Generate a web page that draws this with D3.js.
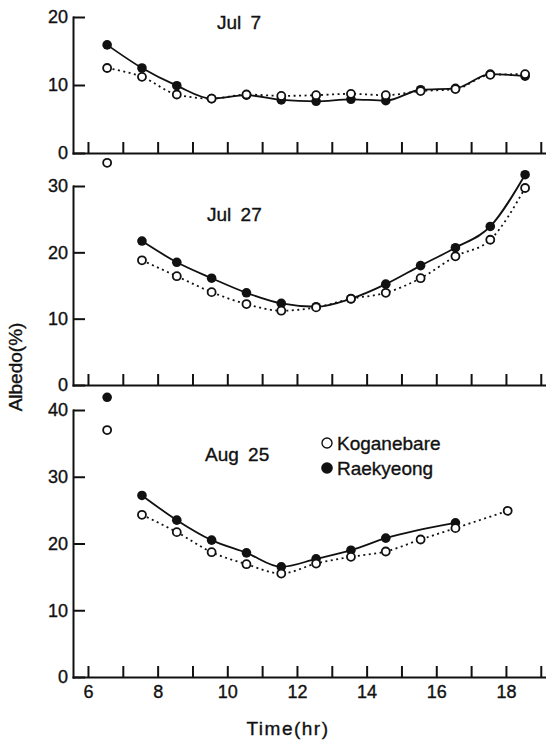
<!DOCTYPE html>
<html>
<head>
<meta charset="utf-8">
<script src="https://cdn.jsdelivr.net/npm/d3@7"></script>
<style>
body { margin: 0; background: #fff; }
text { font-family: "Liberation Sans", Arial, sans-serif; fill: #111; stroke: #111; stroke-width: 0.35px; }
.axis path, .axis line { stroke: #111; stroke-width: 2; }
</style>
</head>
<body>
<div class="d3-container"></div>
<script>
const w = 546
const h = 744

// data
const hours = [6.55, 7.55, 8.55, 9.55, 10.55, 11.55, 12.55, 13.55, 14.55, 15.55, 16.55, 17.55, 18.55]

const kJul7 = [12.5, 11.2, 8.6, 8.0, 8.6, 8.4, 8.5, 8.7, 8.5, 9.1, 9.4, 11.5, 11.6]
const rJul7 = [15.9, 12.5, 9.9, 8.0, 8.5, 7.8, 7.6, 7.9, 7.7, 9.3, 9.5, 11.6, 11.3]

const hJul27 = [7.55, 8.55, 9.55, 10.55, 11.55, 12.55, 13.55, 14.55, 15.55, 16.55, 17.55, 18.55]
const kJul27 = [18.8, 16.4, 14.0, 12.2, 11.2, 11.7, 13.0, 13.9, 16.1, 19.4, 21.9, 29.7]
const rJul27 = [21.7, 18.5, 16.1, 13.9, 12.3, 11.8, 13.0, 15.2, 18.0, 20.7, 23.9, 31.7]

const hkAug25 = [7.55, 8.55, 9.55, 10.55, 11.55, 12.55, 13.55, 14.55, 15.55, 16.55, 18.05]
const kAug25 = [24.3, 21.7, 18.7, 16.9, 15.5, 17.0, 18.0, 18.8, 20.6, 22.3, 24.9]
const hrAug25 = [7.55, 8.55, 9.55, 10.55, 11.55, 12.55, 13.55, 14.55, 16.55]
const rAug25 = [27.2, 23.5, 20.5, 18.6, 16.5, 17.7, 19.0, 20.8, 23.1]

// single readings outside the curves (6:30 values)
const kJul27Early = [{ t: 6.55, v: 33.5 }]
const kAug25Early = [{ t: 6.55, v: 37.0 }]
const rAug25Early = [{ t: 6.55, v: 41.9 }]

const panelNames = ['Jul 7', 'Jul 27', 'Aug 25']
const panelMax = [20, 30, 40]
const xTicks = [6, 7, 8, 9, 10, 11, 12, 13, 14, 15, 16, 17, 18, 19]
const xLabels = [6, 8, 10, 12, 14, 16, 18]
const legendNames = ['Koganebare', 'Raekyeong']

const zip = (ts, vs) => ts.map((t, i) => ({ t: t, v: vs[i] }))

const svg = d3.select('.d3-container')
    .append('svg')
    .attr('width', w)
    .attr('height', h)

const x = d3.scaleLinear()
    .domain([5.57, 19.15])
    .range([73, 546])

// pixel spans of each panel (bottom, top)
const spans = [[153, 17], [385, 186], [677, 410]]

const panels = [
    { k: zip(hours, kJul7), r: zip(hours, rJul7), kx: [], rx: [] },
    { k: zip(hJul27, kJul27), r: zip(hJul27, rJul27), kx: kJul27Early, rx: [] },
    { k: zip(hkAug25, kAug25), r: zip(hrAug25, rAug25), kx: kAug25Early, rx: rAug25Early }
]

const line = (y) => d3.line()
    .x(d => x(d.t))
    .y(d => y(d.v))
    .curve(d3.curveMonotoneX)

panels.forEach((p, i) => {
    const y = d3.scaleLinear()
        .domain([0, panelMax[i]])
        .range(spans[i])

    const g = svg.append('g')

    const yTicks = d3.range(0, panelMax[i] + 1, 10)
    g.append('g')
        .attr('class', 'axis')
        .attr('transform', `translate(${x.range()[0]},0)`)
        .call(d3.axisLeft(y).tickValues(yTicks).tickSizeInner(-12).tickSizeOuter(0).tickPadding(5))
        .call(a => a.selectAll('text').style('font-size', '18px').attr('fill', '#111'))

    g.append('g')
        .attr('class', 'axis')
        .attr('transform', `translate(0,${y(0)})`)
        .call(d3.axisBottom(x).tickValues(xTicks).tickSizeInner(-11).tickSizeOuter(0).tickPadding(8)
            .tickFormat(d => (i === 2 && xLabels.includes(d)) ? d : ''))
        .call(a => a.selectAll('text').style('font-size', '18px').attr('fill', '#111'))

    g.selectAll('.axis .domain').attr('stroke-linecap', 'square')

    // curves
    g.append('path')
        .datum(p.r)
        .attr('d', line(y))
        .attr('fill', 'none')
        .attr('stroke', '#111')
        .attr('stroke-width', 1.8)

    g.append('path')
        .datum(p.k)
        .attr('d', line(y))
        .attr('fill', 'none')
        .attr('stroke', '#111')
        .attr('stroke-width', 1.8)
        .attr('stroke-dasharray', '2,3.5')

    // markers
    g.selectAll('.r')
        .data(p.r.concat(p.rx))
        .enter()
        .append('circle')
        .attr('cx', d => x(d.t))
        .attr('cy', d => y(d.v))
        .attr('r', 4.8)
        .attr('fill', '#111')

    g.selectAll('.k')
        .data(p.k.concat(p.kx))
        .enter()
        .append('circle')
        .attr('cx', d => x(d.t))
        .attr('cy', d => y(d.v))
        .attr('r', 4)
        .attr('fill', '#fff')
        .attr('stroke', '#111')
        .attr('stroke-width', 1.8)
})

// panel titles
const titlePos = [[217, 29], [207, 221], [205, 461]]
panelNames.forEach((n, i) => {
    svg.append('text')
        .attr('x', titlePos[i][0])
        .attr('y', titlePos[i][1])
        .style('font-size', '19px')
        .style('word-spacing', '4px')
        .text(n)
})

// legend
const legend = svg.append('g').attr('transform', 'translate(327, 443)')
legendNames.forEach((n, i) => {
    legend.append('circle')
        .attr('cx', 0)
        .attr('cy', i * 25)
        .attr('r', i === 0 ? 5 : 5.8)
        .attr('fill', i === 0 ? '#fff' : '#111')
        .attr('stroke', '#111')
        .attr('stroke-width', i === 0 ? 1.4 : 0)
    legend.append('text')
        .attr('x', 10)
        .attr('y', i * 25 + 7)
        .style('font-size', '19px')
        .text(n)
})

// axis titles
svg.append('text')
    .attr('transform', 'translate(22, 367) rotate(-90)')
    .attr('text-anchor', 'middle')
    .style('font-size', '19px')
    .text('Albedo(%)')

svg.append('text')
    .attr('x', 288)
    .attr('y', 735)
    .attr('text-anchor', 'middle')
    .style('font-size', '19px')
    .style('letter-spacing', '1.5px')
    .text('Time(hr)')
</script>
</body>
</html>
